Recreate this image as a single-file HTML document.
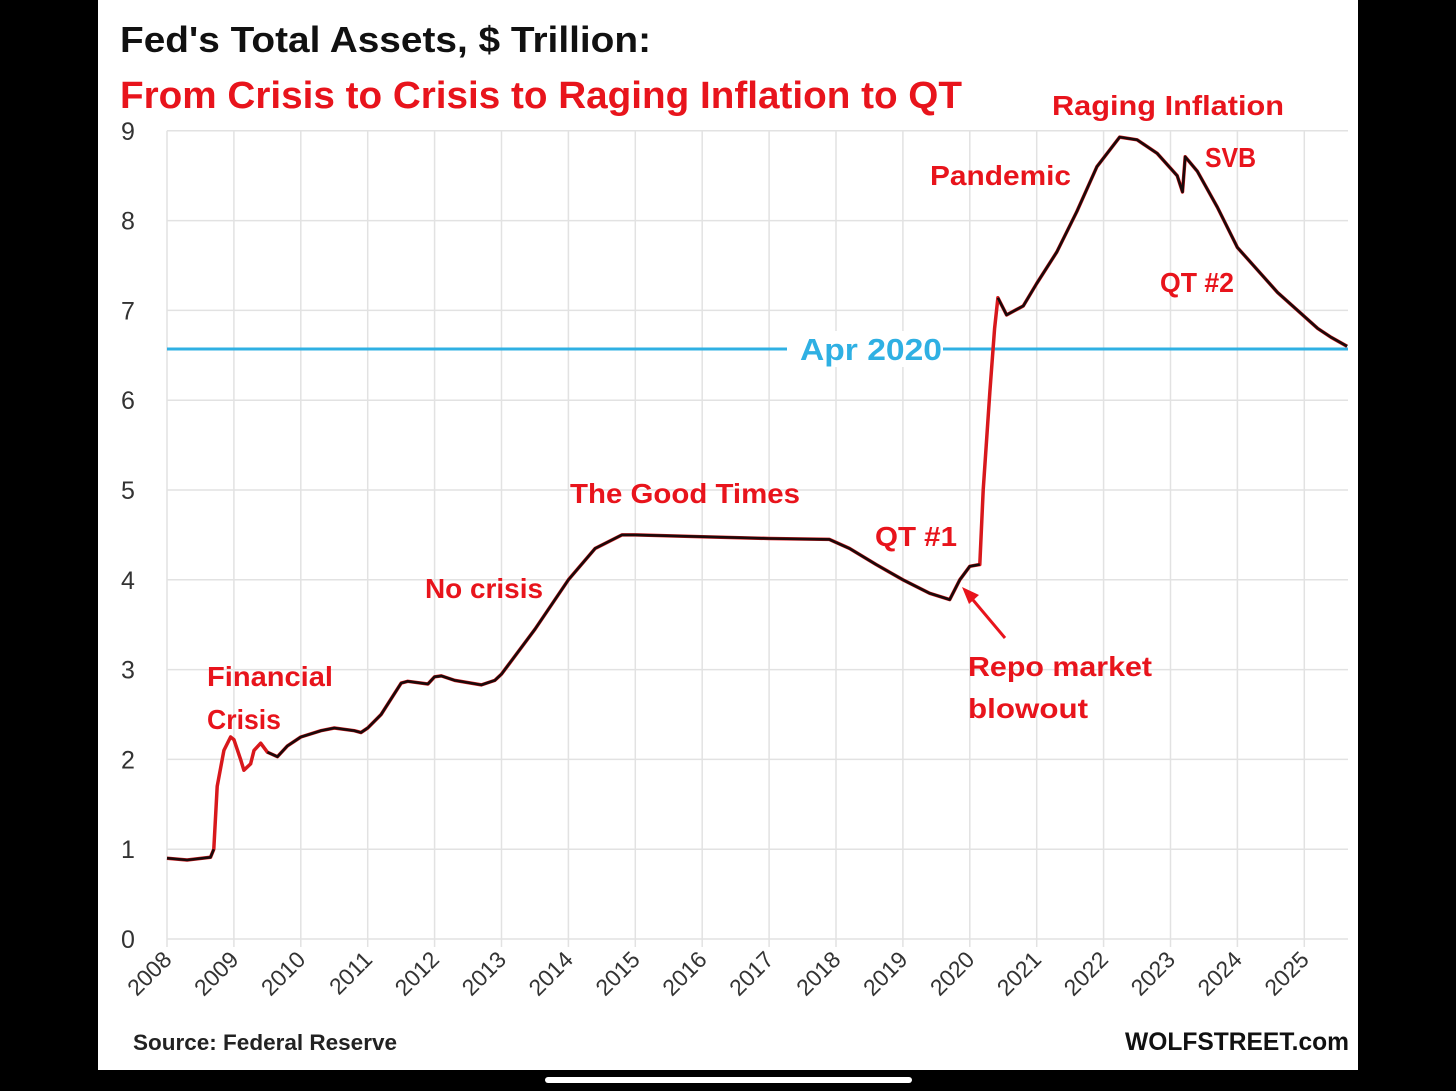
<!DOCTYPE html>
<html><head><meta charset="utf-8"><style>
html,body{margin:0;padding:0;background:#000;width:1456px;height:1091px;overflow:hidden}
svg{display:block;font-family:"Liberation Sans",sans-serif}
</style></head><body>
<svg id="chart" width="1456" height="1091" viewBox="0 0 1456 1091">
<rect x="0" y="0" width="1456" height="1091" fill="#000"/>
<rect x="98" y="0" width="1260" height="1070" fill="#fff"/>
<g id="grid"></g>
<g id="axes"></g>
<g id="ref"></g>
<g id="series"></g>
<text x="120" y="52" font-size="36" font-weight="bold" fill="#111" textLength="531" lengthAdjust="spacingAndGlyphs">Fed's Total Assets, $ Trillion:</text>
<text x="120" y="108" font-size="38" font-weight="bold" fill="#e8141c" textLength="842" lengthAdjust="spacingAndGlyphs">From Crisis to Crisis to Raging Inflation to QT</text>
<g fill="#e8141c" font-weight="bold" font-size="28">
<text x="1052" y="115" textLength="232" lengthAdjust="spacingAndGlyphs">Raging  Inflation</text>
<text x="1205" y="167" textLength="51" lengthAdjust="spacingAndGlyphs">SVB</text>
<text x="930" y="185" textLength="141" lengthAdjust="spacingAndGlyphs">Pandemic</text>
<text x="1160" y="292" textLength="74" lengthAdjust="spacingAndGlyphs">QT #2</text>
<text x="570" y="503" textLength="230" lengthAdjust="spacingAndGlyphs">The Good Times</text>
<text x="875" y="546" textLength="82" lengthAdjust="spacingAndGlyphs">QT #1</text>
<text x="425" y="598" textLength="118" lengthAdjust="spacingAndGlyphs">No crisis</text>
<text x="207" y="686" textLength="126" lengthAdjust="spacingAndGlyphs">Financial</text>
<text x="207" y="729" textLength="74" lengthAdjust="spacingAndGlyphs">Crisis</text>
<text x="968" y="676" textLength="184" lengthAdjust="spacingAndGlyphs">Repo market</text>
<text x="968" y="718" textLength="120" lengthAdjust="spacingAndGlyphs">blowout</text>
</g>
<line x1="1005" y1="638" x2="968" y2="594" stroke="#e8141c" stroke-width="3"/>
<polygon points="962,587 979,595 969,604" fill="#e8141c"/>
<text x="133" y="1050" font-size="22" font-weight="bold" fill="#222" textLength="264" lengthAdjust="spacingAndGlyphs">Source: Federal Reserve</text>
<text x="1125" y="1050" font-size="25" font-weight="bold" fill="#111" textLength="224" lengthAdjust="spacingAndGlyphs">WOLFSTREET.com</text>
<rect x="545" y="1077" width="367" height="6" rx="3" fill="#fff"/>
</svg>
<script>
const yearTicks = [2008,2009,2010,2011,2012,2013,2014,2015,2016,2017,2018,2019,2020,2021,2022,2023,2024,2025];
const valueTicks = [0,1,2,3,4,5,6,7,8,9];
const dates = [2008.0,2008.3,2008.65,2008.7,2008.75,2008.85,2008.95,2009.0,2009.1,2009.15,2009.25,2009.3,2009.4,2009.5,2009.65,2009.8,2010.0,2010.3,2010.5,2010.8,2010.9,2011.0,2011.2,2011.5,2011.6,2011.9,2012.0,2012.1,2012.3,2012.7,2012.9,2013.0,2013.5,2014.0,2014.4,2014.8,2015.0,2016.0,2017.0,2017.9,2018.2,2018.6,2019.0,2019.4,2019.7,2019.85,2020.0,2020.15,2020.2,2020.3,2020.37,2020.42,2020.55,2020.8,2021.0,2021.3,2021.6,2021.9,2022.24,2022.5,2022.8,2023.1,2023.18,2023.22,2023.4,2023.7,2024.0,2024.3,2024.6,2024.9,2025.2,2025.4,2025.64];
const assets = [0.90,0.88,0.91,1.0,1.7,2.1,2.25,2.22,2.0,1.88,1.95,2.1,2.18,2.08,2.03,2.15,2.25,2.32,2.35,2.32,2.30,2.35,2.5,2.85,2.87,2.84,2.92,2.93,2.88,2.83,2.88,2.95,3.45,4.0,4.35,4.5,4.5,4.48,4.46,4.45,4.35,4.17,4.0,3.85,3.78,4.0,4.15,4.17,5.0,6.1,6.8,7.14,6.95,7.05,7.3,7.65,8.1,8.6,8.93,8.9,8.75,8.5,8.32,8.71,8.55,8.15,7.7,7.45,7.2,7.0,6.8,6.7,6.6];
const refValue = 6.57;
const refLabel = "Apr 2020";

const X0=167, XS=66.9, Y0=939, YS=89.8, XR=1348;
const xs = d => X0 + (d-2008)*XS;
const ys = v => Y0 - v*YS;
const NS="http://www.w3.org/2000/svg";
function mk(tag, parent, attrs){const e=document.createElementNS(NS,tag);for(const k in attrs)e.setAttribute(k,attrs[k]);document.getElementById(parent).appendChild(e);return e;}

valueTicks.forEach(v=>{
  const l=mk('line','grid',{x1:X0,x2:XR,y1:ys(v),y2:ys(v),stroke:'#e2e2e2','stroke-width':1.5});
  
  
  const t=mk('text','axes',{x:128,y:ys(v)+9,'font-size':25,fill:'#333','text-anchor':'middle'});
  t.textContent=v;
  
  
});
yearTicks.forEach(yr=>{
  const x=xs(yr);
  const l=mk('line','grid',{x1:x,x2:x,y1:ys(9),y2:Y0+8,stroke:'#e2e2e2','stroke-width':1.5});
  
  
  const t=mk('text','axes',{x:x+6,y:Y0+22,'font-size':23,fill:'#333','text-anchor':'end',transform:`rotate(-45 ${x+6} ${Y0+22})`});
  t.textContent=yr;
  
  
});
const ry=ys(refValue);
const rl=mk('line','ref',{x1:X0,x2:XR,y1:ry,y2:ry,stroke:'#2fb0e3','stroke-width':3});


const rb=mk('rect','ref',{x:787,y:ry-18,width:156,height:36,fill:'#fff'});


const rt=mk('text','ref',{x:800,y:ry+11,'font-size':31,'font-weight':'bold',fill:'#2fb0e3',textLength:142,lengthAdjust:'spacingAndGlyphs'});
rt.textContent=refLabel;



const pts=dates.map((d,i)=>`${xs(d).toFixed(1)},${ys(assets[i]).toFixed(1)}`).join(' ');
const under=mk('polyline','series',{points:pts,fill:'none',stroke:'#d8181c','stroke-width':3.5,'stroke-linejoin':'round'});


const blackPts=dates.map((d,i)=>{const r=(d>=2008.72&&d<=2009.45)||(d>=2020.16&&d<=2020.4);return {d,i,r};});
let seg=[];const segs=[];
blackPts.forEach(p=>{ if(!p.r){seg.push(p.i);} else {if(seg.length>1)segs.push(seg);seg=[];} });
if(seg.length>1)segs.push(seg);
segs.forEach(s=>{
  const pl=mk('polyline','series',{points:s.map(i=>`${xs(dates[i]).toFixed(1)},${ys(assets[i]).toFixed(1)}`).join(' '),fill:'none',stroke:'#1a0a0a','stroke-width':2.6,'stroke-linejoin':'round'});
  
  
});
</script>
</body></html>
